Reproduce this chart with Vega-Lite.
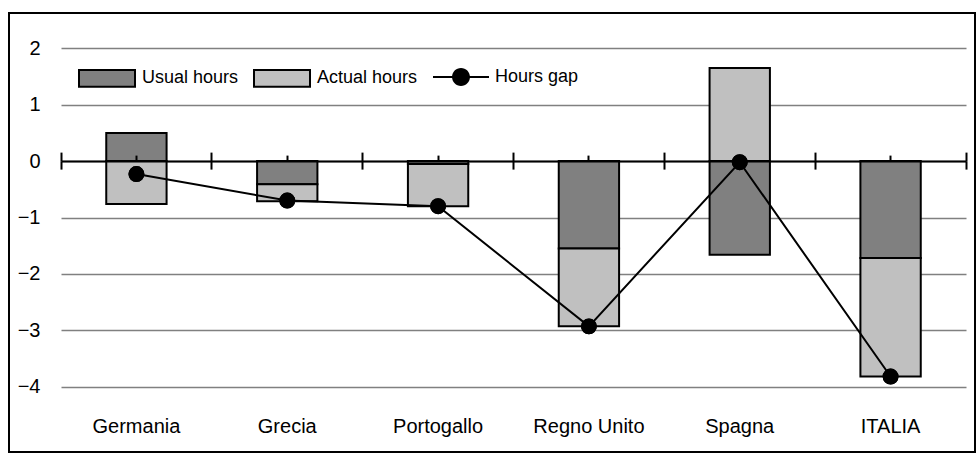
{
  "$schema": "https://vega.github.io/schema/vega-lite/v6.json",
  "width": 966,
  "height": 439,
  "autosize": {"type": "none"},
  "padding": {"left": 9, "top": 13, "right": 2, "bottom": 1},
  "background": "white",
  "datasets": {
    "bars": [
      {"country": "Germania", "series": "Usual hours", "value": 0.50},
      {"country": "Germania", "series": "Actual hours", "value": -0.76},
      {"country": "Grecia", "series": "Usual hours", "value": -0.41},
      {"country": "Grecia", "series": "Actual hours", "value": -0.30},
      {"country": "Portogallo", "series": "Usual hours", "value": -0.05},
      {"country": "Portogallo", "series": "Actual hours", "value": -0.75},
      {"country": "Regno Unito", "series": "Usual hours", "value": -1.55},
      {"country": "Regno Unito", "series": "Actual hours", "value": -1.38},
      {"country": "Spagna", "series": "Usual hours", "value": -1.66},
      {"country": "Spagna", "series": "Actual hours", "value": 1.65},
      {"country": "ITALIA", "series": "Usual hours", "value": -1.72},
      {"country": "ITALIA", "series": "Actual hours", "value": -2.10}
    ],
    "gap": [
      {"country": "Germania", "gap": -0.23},
      {"country": "Grecia", "gap": -0.70},
      {"country": "Portogallo", "gap": -0.80},
      {"country": "Regno Unito", "gap": -2.93},
      {"country": "Spagna", "gap": -0.02},
      {"country": "ITALIA", "gap": -3.82}
    ]
  },
  "layer": [
    {
      "data": {"name": "bars"},
      "mark": {"type": "bar", "stroke": "black", "strokeWidth": 2, "width": {"band": 0.4}},
      "encoding": {
        "x": {
          "field": "country", "type": "nominal",
          "scale": {"domain": ["Germania", "Grecia", "Portogallo", "Regno Unito", "Spagna", "ITALIA"], "range": [52, 957], "paddingInner": 0, "paddingOuter": 0},
          "axis": {"orient": "bottom", "offset": -36, "domain": false, "ticks": false, "tickSize": 0, "labelPadding": 0, "labelFontSize": 20, "labelAngle": 0, "title": null, "grid": false}
        },
        "y": {
          "field": "value", "type": "quantitative", "stack": "zero",
          "scale": {"domain": [-4, 2], "range": [373.7, 35.3], "nice": false, "zero": false},
          "axis": {"orient": "left", "offset": -52, "values": [-4, -3, -2, -1, 0, 1, 2], "format": "d", "domain": false, "ticks": false, "tickSize": 0, "labelPadding": 21, "labelFontSize": 20, "title": null, "grid": true, "gridColor": "#808080", "gridWidth": 1.5}
        },
        "color": {
          "field": "series", "type": "nominal",
          "scale": {"domain": ["Usual hours", "Actual hours"], "range": ["#808080", "#c0c0c0"]},
          "legend": {
            "title": null, "orient": "none", "legendX": 69, "legendY": 36,
            "direction": "horizontal", "columns": 2, "columnPadding": 11,
            "symbolSize": 3136, "symbolType": "M-1,-0.3H1V0.3H-1Z",
            "symbolStrokeColor": "black", "symbolStrokeWidth": 2, "symbolOpacity": 1,
            "labelOffset": 6, "labelFontSize": 18, "padding": 0
          }
        },
        "order": {"field": "series", "sort": "descending"}
      }
    },
    {
      "data": {"name": "gap"},
      "mark": {"type": "line", "strokeWidth": 2, "color": "black"},
      "encoding": {
        "x": {
          "field": "country", "type": "nominal",
          "axis": {"orient": "top", "offset": -148.1, "domain": true, "domainColor": "black", "domainWidth": 2, "ticks": true, "tickSize": 9, "tickColor": "black", "tickWidth": 2, "bandPosition": 1, "tickExtra": true, "labels": false, "title": null, "grid": false, "zindex": 1}
        },
        "y": {"field": "gap", "type": "quantitative"}
      }
    },
    {
      "data": {"name": "gap"},
      "mark": {"type": "circle", "size": 254, "color": "black"},
      "encoding": {
        "x": {
          "field": "country", "type": "nominal",
          "axis": {"orient": "bottom", "offset": -290.9, "domain": false, "ticks": true, "tickSize": 8, "tickColor": "black", "tickWidth": 2, "bandPosition": 1, "tickExtra": true, "labels": false, "title": null, "grid": false, "zindex": 1}
        },
        "y": {"field": "gap", "type": "quantitative"},
        "opacity": {
          "datum": "Hours gap", "type": "nominal",
          "scale": {"domain": ["Hours gap"], "range": [1]},
          "legend": {
            "title": null, "orient": "none", "legendX": 424, "legendY": 36,
            "symbolSize": 3136,
            "symbolType": "M-1,-0.035H-0.3V0.035H-1Z M0.3,-0.035H1V0.035H0.3Z M-0.32,0A0.32,0.32 0 1,1 0.32,0A0.32,0.32 0 1,1 -0.32,0Z",
            "symbolFillColor": "black", "symbolStrokeColor": "black", "symbolStrokeWidth": 0, "symbolOpacity": 1,
            "labelOffset": 6, "labelFontSize": 18, "padding": 0
          }
        }
      }
    },
    {
      "data": {"name": "gap"},
      "mark": {"type": "circle", "size": 254, "color": "black", "opacity": 1},
      "encoding": {
        "x": {
          "field": "country", "type": "nominal",
          "axis": {"orient": "top", "offset": -148.1, "domain": false, "ticks": true, "tickSize": 6, "tickColor": "black", "tickWidth": 2, "labels": false, "title": null, "grid": false, "zindex": 1}
        },
        "y": {"field": "gap", "type": "quantitative"}
      }
    }
  ],
  "resolve": {"axis": {"x": "independent"}},
  "config": {
    "font": "Liberation Sans",
    "view": {"stroke": "black", "strokeWidth": 2},
    "axis": {"labelFont": "Liberation Sans", "labelColor": "black"},
    "legend": {"labelFont": "Liberation Sans", "labelColor": "black"}
  }
}
